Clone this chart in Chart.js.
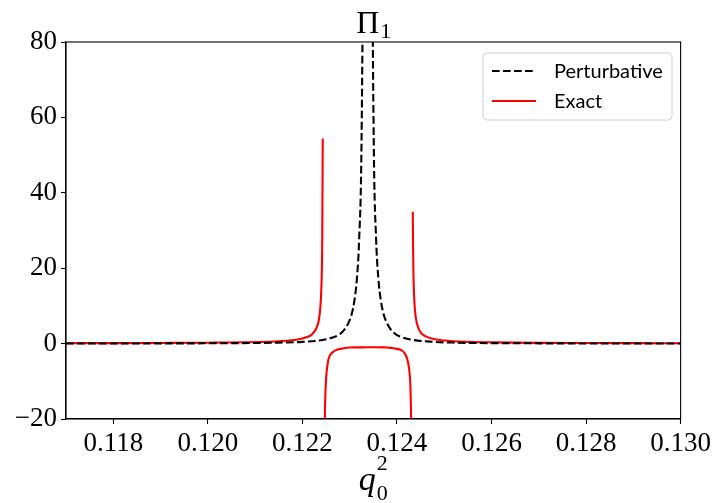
<!DOCTYPE html>
<html>
<head>
<meta charset="utf-8">
<script src="https://cdn.jsdelivr.net/npm/chart.js@4"></script>
<style>
  html, body { margin: 0; padding: 0; background: #fff; }
  #wrap { width: 715px; height: 503px; }
</style>
</head>
<body>
<div id="wrap"><canvas id="grafico"></canvas></div>
<script>
// Ticks
const xTicks = [0.118, 0.120, 0.122, 0.124, 0.126, 0.128, 0.130];
const yTicks = [-20, 0, 20, 40, 60, 80];

// Perturbativo (discontinua negra)
const qPert = [0.1170, 0.1180, 0.1190, 0.1200, 0.1210, 0.1215, 0.1220, 0.1225, 0.1228, 0.1229, 0.1230, 0.12305,
  0.1231, 0.12315, 0.1232, 0.12325, 0.1233, 0.12338, 0.12346, 0.12351, 0.12356, 0.12361, 0.12366, 0.12371,
  0.12376, 0.12386, 0.12396, 0.12406, 0.12426, 0.12476, 0.12526, 0.1260, 0.1270, 0.1280, 0.1290, 0.1300];
const piPert = [0.02, 0.03, 0.05, 0.08, 0.16, 0.25, 0.47, 1.15, 2.6, 3.9, 6.2, 8.2,
  11.4, 16.8, 27.5, 52.7, 139, 400, 139, 52.7, 27.5, 16.8, 11.4, 8.2,
  6.2, 3.9, 2.6, 1.9, 1.15, 0.47, 0.25, 0.13, 0.07, 0.04, 0.03, 0.02];

// Exacto (roja), tres ramas
const qExactL = [0.1170, 0.1180, 0.1190, 0.1200, 0.1210, 0.1215, 0.1219, 0.1221, 0.1222, 0.1223, 0.12235, 0.12238, 0.1224, 0.12242, 0.12243];
const piExactL = [0.11, 0.13, 0.17, 0.24, 0.41, 0.63, 1.09, 1.73, 2.43, 4.2, 6.4, 9.7, 14.4, 28, 54.4];

const qExactM = [0.122465, 0.12248, 0.1225, 0.12251, 0.12255, 0.1226, 0.12265, 0.1227, 0.1228, 0.1229, 0.1230, 0.1232, 0.12338,
  0.1235, 0.1237, 0.1238, 0.1239, 0.1240, 0.1241, 0.12416, 0.12421, 0.12425, 0.124266, 0.12428, 0.12430, 0.124305];
const piExactM = [-26, -16, -9.5, -7.8, -4.2, -2.8, -2.2, -1.8, -1.4, -1.15, -1.05, -1.0, -0.97,
  -0.98, -1.0, -1.05, -1.15, -1.4, -1.8, -2.5, -3.8, -6.0, -7.8, -10, -20, -26];

const qExactR = [0.124335, 0.12434, 0.12435, 0.12437, 0.1244, 0.12445, 0.1245, 0.1246, 0.1248, 0.1250, 0.1255, 0.1260, 0.1270, 0.1280, 0.1290, 0.1300];
const piExactR = [35, 26, 17.7, 10.8, 6.8, 4.2, 3.0, 1.96, 1.14, 0.81, 0.47, 0.33, 0.2, 0.15, 0.12, 0.1];

function puntos(xs, ys) {
    return xs.map((x, i) => ({ x: x, y: ys[i] }))
}

const datosPert = puntos(qPert, piPert)
const datosExact = [
    ...puntos(qExactL, piExactL),
    { x: 0.12245, y: null },
    ...puntos(qExactM, piExactM),
    { x: 0.12432, y: null },
    ...puntos(qExactR, piExactR)
]

const serif = "'Liberation Serif', 'DejaVu Serif', serif"

// Marco, titulo, etiqueta del eje x y leyenda
const extras = {
    id: 'extras',
    afterDraw(chart) {
        const ctx = chart.ctx
        const a = chart.chartArea
        ctx.save()
        ctx.strokeStyle = '#000'
        ctx.lineWidth = 1.1
        ctx.strokeRect(a.left, a.top, a.right - a.left, a.bottom - a.top)

        // Titulo Pi_1
        const cx = (a.left + a.right) / 2
        ctx.fillStyle = '#000'
        ctx.textBaseline = 'alphabetic'
        ctx.font = '32px ' + serif
        const wPi = ctx.measureText('\u03A0').width
        ctx.font = '22px ' + serif
        const wUno = ctx.measureText('1').width
        const x0 = cx - (wPi + wUno) / 2
        ctx.font = '32px ' + serif
        ctx.textAlign = 'left'
        ctx.fillText('\u03A0', x0, 33)
        ctx.font = '22px ' + serif
        ctx.fillText('1', x0 + wPi + 1, 38)

        // Etiqueta q_0^2
        ctx.font = 'italic 34px ' + serif
        const wq = ctx.measureText('q').width
        const xq = cx - (wq + 12) / 2
        ctx.fillText('q', xq, 490)
        ctx.font = '22px ' + serif
        ctx.fillText('2', xq + wq + 1, 470)
        ctx.fillText('0', xq + wq + 1, 500)

        // Leyenda
        const lx = 483, ly = 53, lw = 189, lh = 67
        ctx.beginPath()
        ctx.roundRect(lx, ly, lw, lh, 4)
        ctx.fillStyle = 'rgba(255,255,255,0.8)'
        ctx.fill()
        ctx.strokeStyle = '#d0d0d0'
        ctx.lineWidth = 1
        ctx.stroke()

        const filas = [71, 101]
        chart.data.datasets.forEach((ds, i) => {
            ctx.beginPath()
            ctx.strokeStyle = ds.borderColor
            ctx.lineWidth = ds.borderWidth
            ctx.setLineDash(ds.borderDash || [])
            ctx.moveTo(492, filas[i])
            ctx.lineTo(536, filas[i])
            ctx.stroke()
            ctx.setLineDash([])
            ctx.fillStyle = '#000'
            ctx.font = '20px Lato, sans-serif'
            ctx.textBaseline = 'middle'
            ctx.fillText(ds.label, 554, filas[i] + 1)
        })
        ctx.restore()
    }
}

const ctx = document.getElementById('grafico').getContext('2d')
new Chart(ctx, {
    type: 'line',
    data: {
        datasets: [{
            label: 'Perturbative',
            data: datosPert,
            borderColor: '#000000',
            borderWidth: 2.1,
            borderDash: [7.7, 3.3],
            pointRadius: 0,
            cubicInterpolationMode: 'monotone',
            clip: 0
        }, {
            label: 'Exact',
            data: datosExact,
            borderColor: '#ff0000',
            borderWidth: 2.1,
            pointRadius: 0,
            spanGaps: false,
            cubicInterpolationMode: 'monotone',
            clip: 0
        }]
    },
    options: {
        responsive: true,
        maintainAspectRatio: false,
        animation: false,
        parsing: false,
        layout: { padding: { top: 42, right: 33, left: 0, bottom: 0 } },
        plugins: {
            legend: { display: false },
            tooltip: { enabled: false }
        },
        scales: {
            x: {
                type: 'linear',
                min: 0.117,
                max: 0.130,
                afterBuildTicks: scale => { scale.ticks = xTicks.map(v => ({ value: v })) },
                afterFit: scale => { scale.height = 84 },
                grid: { drawOnChartArea: false, drawTicks: true, tickLength: 5, color: '#000', tickWidth: 1.1 },
                border: { display: true, color: '#000', width: 1.1 },
                ticks: {
                    color: '#000',
                    padding: 4,
                    maxRotation: 0,
                    autoSkip: false,
                    font: { family: serif, size: 27 },
                    callback: v => v.toFixed(3)
                }
            },
            y: {
                type: 'linear',
                min: -20,
                max: 80,
                afterBuildTicks: scale => { scale.ticks = yTicks.map(v => ({ value: v })) },
                afterFit: scale => { scale.width = 66 },
                grid: { drawOnChartArea: false, drawTicks: true, tickLength: 5, color: '#000', tickWidth: 1.1 },
                border: { display: true, color: '#000', width: 1.1 },
                ticks: {
                    color: '#000',
                    padding: 4,
                    autoSkip: false,
                    font: { family: serif, size: 27 },
                    callback: v => v < 0 ? '\u2212' + (-v) : String(v)
                }
            }
        }
    },
    plugins: [extras]
});
</script>
</body>
</html>
